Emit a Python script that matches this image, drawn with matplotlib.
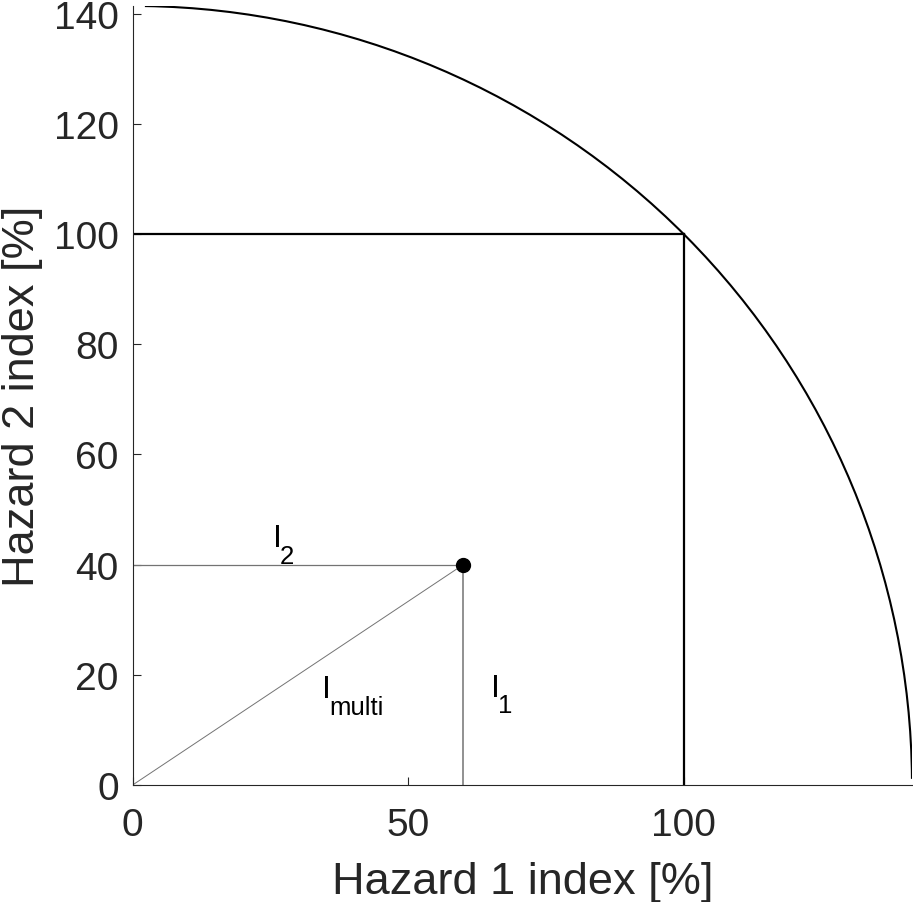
import matplotlib

matplotlib.use("Agg")
import matplotlib.pyplot as plt
from matplotlib.patches import Arc

plt.rcParams["font.family"] = ["Liberation Sans", "DejaVu Sans"]

# data
hazard1 = 60          # I1 [%]
hazard2 = 40          # I2 [%]
ref_level = 100       # 100 % box
radius = 141.42       # sqrt(100^2 + 100^2)
arc_span = (0.45, 89.1)  # degrees drawn
xticks = [0, 50, 100]
yticks = [0, 20, 40, 60, 80, 100, 120, 140]
# (main letter, subscript, x, y of baseline)
labels = [("I", "2", 25.5, 43.4), ("I", "multi", 34.4, 16.0), ("I", "1", 65.0, 16.2)]

TXT = "#262626"

fig = plt.figure(figsize=(9.13, 9.03), dpi=100)
ax = fig.add_axes([0.1453, 0.1296, 0.8536, 0.8627])

# quarter circle through (100, 100)
ax.add_patch(Arc((0, 0), 2 * radius, 2 * radius, theta1=arc_span[0], theta2=arc_span[1],
                 color="k", lw=1.5))
# 100 % box
ax.plot([0, ref_level], [ref_level, ref_level], color="k", lw=1.6)
ax.plot([ref_level, ref_level], [0, ref_level], color="k", lw=1.6)

# component lines for the example point
grey = "0.45"
ax.plot([0, hazard1], [hazard2, hazard2], color=grey, lw=0.9)
ax.plot([hazard1, hazard1], [0, hazard2], color=grey, lw=1.1)
ax.plot([0, hazard1], [0, hazard2], color=grey, lw=0.7)
ax.plot([hazard1], [hazard2], "o", color="k", ms=10)

# MATLAB-style subscripts: big and low
for main, sub, x, y in labels:
    ax.text(x, y, main, fontsize=23, color="k", va="baseline")
    ax.annotate(sub, xy=(x, y), xytext=(5.0, -12.0), textcoords="offset points",
                fontsize=18.5, color="k", va="baseline")

ax.set_xlim(0, radius)
ax.set_ylim(0, radius)
ax.set_xticks(xticks)
ax.set_yticks(yticks)
ax.spines["top"].set_visible(False)
ax.spines["right"].set_visible(False)
for s in ("left", "bottom"):
    ax.spines[s].set_color(TXT)
    ax.spines[s].set_linewidth(0.8)
ax.tick_params(axis="both", direction="in", length=6, width=0.8, colors=TXT,
               labelsize=28, labelcolor=TXT)
ax.tick_params(axis="x", pad=16)
ax.tick_params(axis="y", pad=10)

ax.set_xlabel("Hazard 1 index [%]", fontsize=32.5, color=TXT, labelpad=13)
ax.set_ylabel("Hazard 2 index [%]", fontsize=32.5, color=TXT, labelpad=8)

fig.savefig("out.png", dpi=100)
